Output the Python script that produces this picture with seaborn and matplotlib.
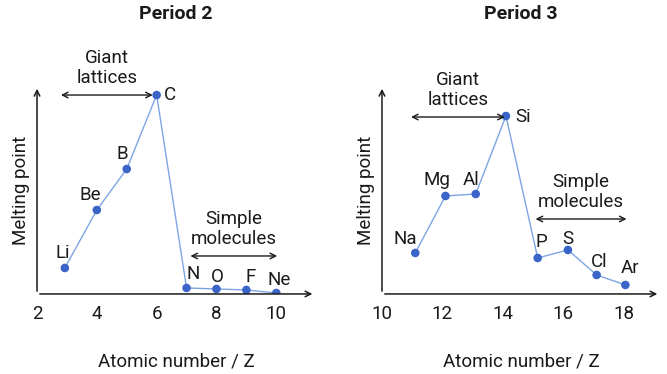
import matplotlib
matplotlib.use("Agg")
import matplotlib.pyplot as plt
import seaborn as sns
import pandas as pd

# Period 2 (relative melting point)
p2_z = [2.93, 4, 5, 6, 7, 8, 9, 10]
p2_mp = [26, 84, 125, 199, 6, 5, 4, 1]
p2_sym = ["Li", "Be", "B", "C", "N", "O", "F", "Ne"]

# Period 3
p3_z = [11.1, 12.1, 13.1, 14.1, 15.15, 16.15, 17.1, 18.05]
p3_mp = [41, 98, 100, 178, 36, 44, 19, 9]
p3_sym = ["Na", "Mg", "Al", "Si", "P", "S", "Cl", "Ar"]

sns.set_style("white")
plt.rcParams["font.family"] = ["Roboto", "DejaVu Sans"]

fig = plt.figure(figsize=(6.67, 3.74), dpi=100)
ax1 = fig.add_axes([0.0555, 0.214, 0.417, 0.556])
ax2 = fig.add_axes([0.5727, 0.214, 0.417, 0.556])

line_c = "#7ea5e3"
dot_c = "#3a64c8"
ink = "#1a1a1a"
fs = 13.5

# label offsets in pixels (dx, dy, ha)
p2_off = [(-2, 15, "center"), (-7, 15, "center"), (-4, 15, "center"), (7, 0, "left"),
          (7, 14, "center"), (1, 12, "center"), (4, 13, "center"), (3, 13, "center")]
p3_off = [(-10, 14, "center"), (-9, 16, "center"), (-5, 14, "center"), (9, -1, "left"),
          (4, 16, "center"), (0, 11, "center"), (3, 13, "center"), (5, 17, "center")]


def draw(ax, z, mp, sym, offs, xlim, ticks, title, giant, simple):
    df = pd.DataFrame({"z": z, "mp": mp})
    sns.lineplot(data=df, x="z", y="mp", ax=ax, color=line_c, lw=1.0, sort=False)
    sns.scatterplot(data=df, x="z", y="mp", ax=ax, color=dot_c, s=38, edgecolor="none", zorder=3)
    for xi, yi, s, (dx, dy, ha) in zip(z, mp, sym, offs):
        ax.annotate(s, (xi, yi), xytext=(dx, dy), textcoords="offset pixels",
                    ha=ha, va="center", fontsize=fs, color=ink)
    ax.set_xlim(*xlim)
    ax.set_ylim(0, 208)
    ax.set_xticks(ticks)
    ax.set_yticks([])
    ax.tick_params(axis="x", labelsize=fs, length=0, pad=8, colors=ink)
    for sp in ax.spines.values():
        sp.set_visible(False)
    ax.annotate("", xy=(1, 0), xytext=(0, 0), xycoords="axes fraction",
                arrowprops=dict(arrowstyle="->", lw=1.1, color=ink))
    ax.annotate("", xy=(0, 1), xytext=(0, 0), xycoords="axes fraction",
                arrowprops=dict(arrowstyle="->", lw=1.1, color=ink))
    ax.set_xlabel("Atomic number / Z", fontsize=fs, labelpad=21, color=ink)
    ax.set_ylabel("Melting point", fontsize=fs, labelpad=5, color=ink)
    ax.set_title(title, fontsize=14, fontweight="bold", pad=48, color=ink)
    for (x0, x1, y), txt in [(giant, "Giant\nlattices"), (simple, "Simple\nmolecules")]:
        ax.annotate("", xy=(x1, y), xytext=(x0, y),
                    arrowprops=dict(arrowstyle="<->", lw=1.0, color=ink,
                                    shrinkA=0, shrinkB=0))
        ax.text((x0 + x1) / 2, y + 8, txt, ha="center", va="bottom",
                fontsize=fs, linespacing=1.15, color=ink)


draw(ax1, p2_z, p2_mp, p2_sym, p2_off, (2, 11.3), [2, 4, 6, 8, 10], "Period 2",
     (2.8, 5.87, 199), (7.13, 10.03, 38))
draw(ax2, p3_z, p3_mp, p3_sym, p3_off, (10, 19.2), [10, 12, 14, 16, 18], "Period 3",
     (10.96, 14.06, 177), (15.08, 18.09, 75))

fig.savefig("out.png", dpi=100)
